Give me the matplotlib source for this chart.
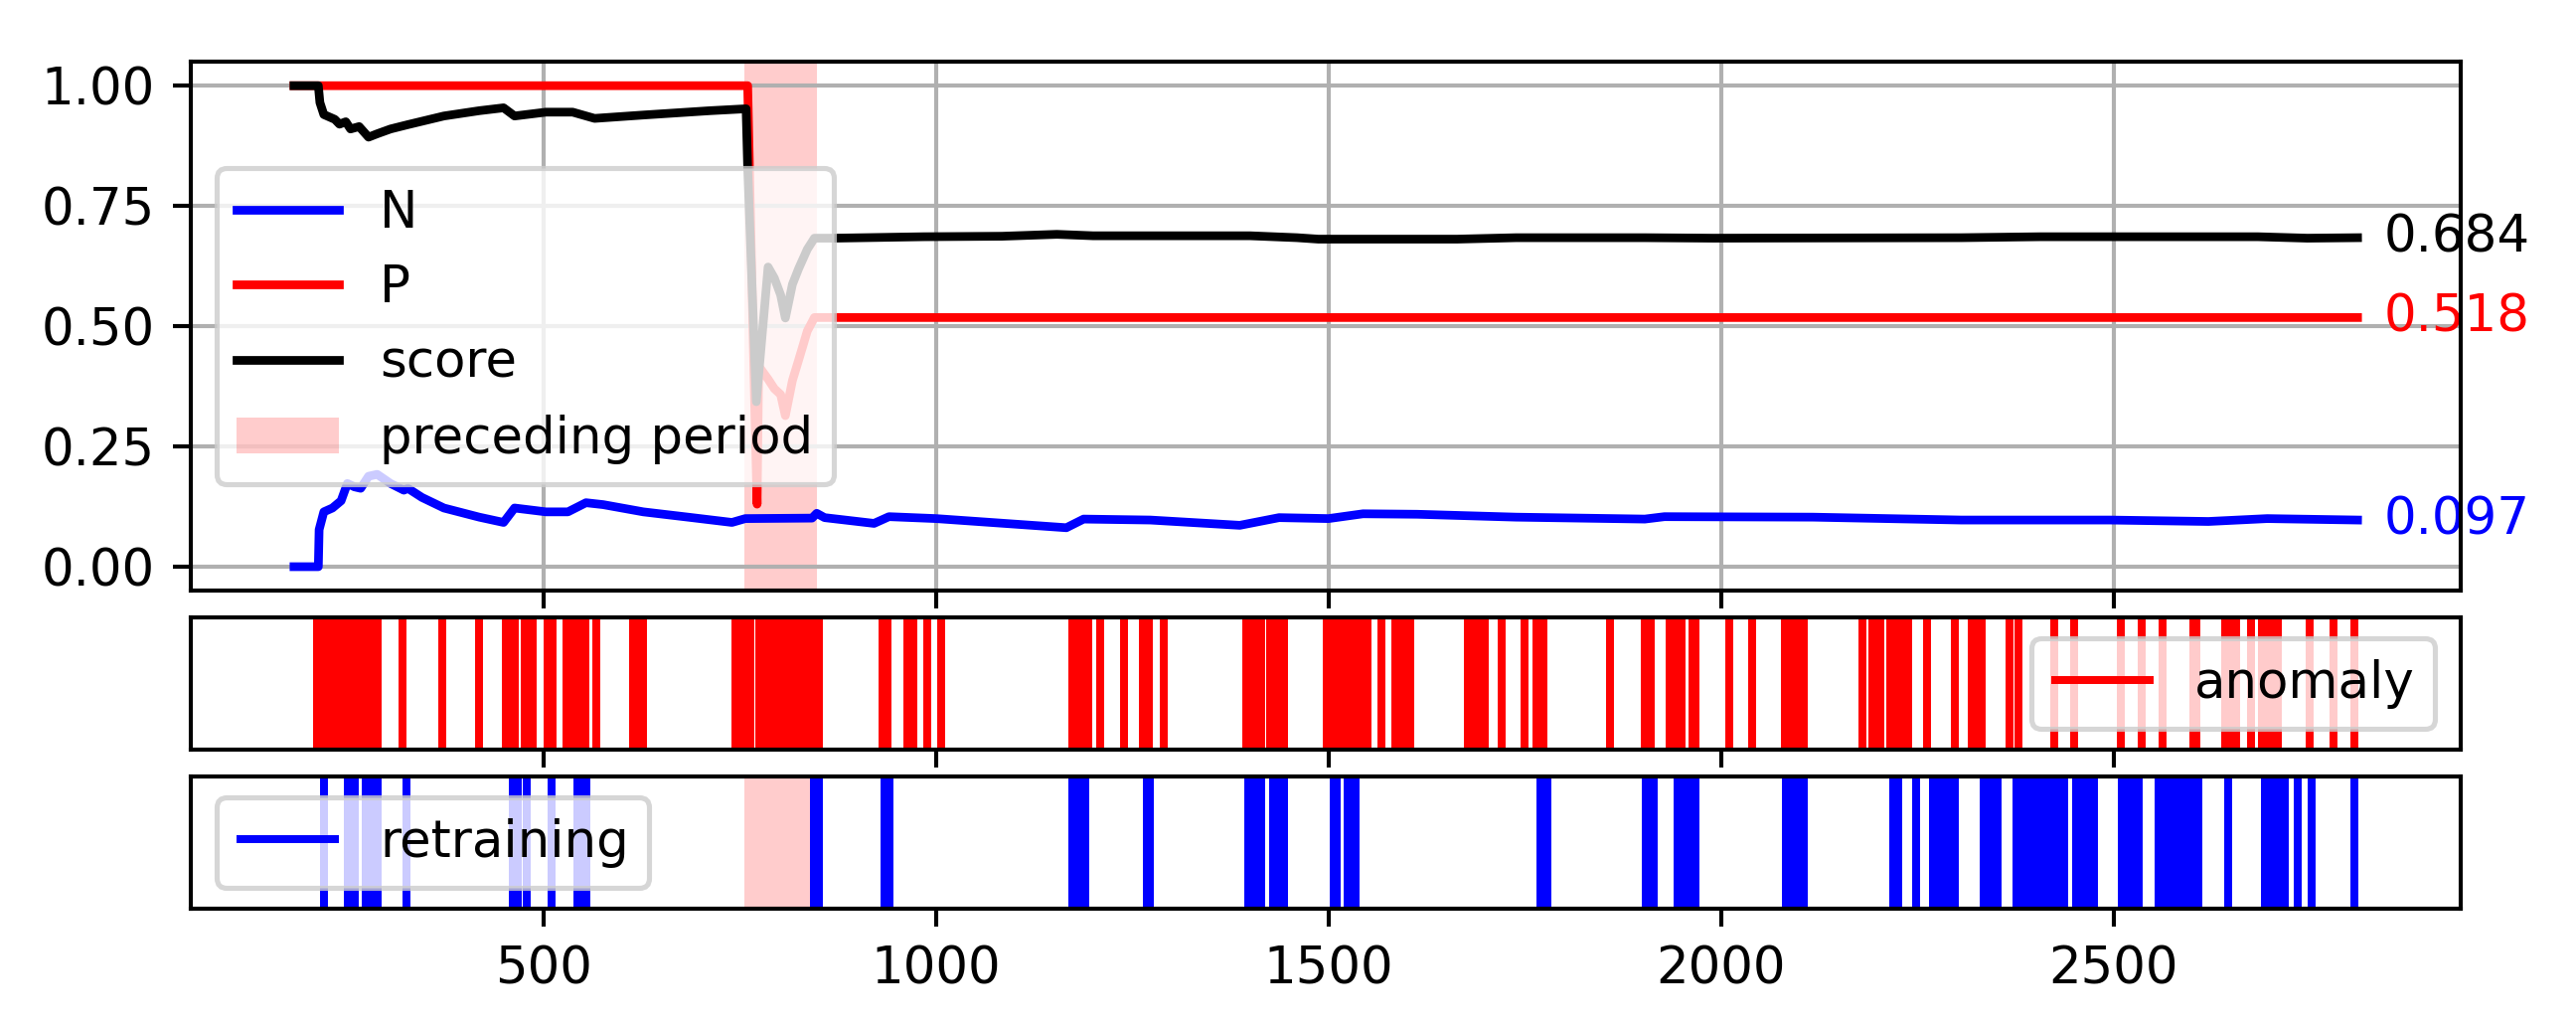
import numpy as np
import matplotlib
matplotlib.use("Agg")
import matplotlib.pyplot as plt

# ---------------- data ----------------
score_x = [182, 213, 215, 220, 234, 240, 248, 254, 265, 277, 288, 305, 327, 373, 418, 449,
           463, 503, 537, 565, 627, 712, 758, 760, 771, 786, 794, 802, 808, 817, 825, 836,
           845, 870, 984, 1084, 1154, 1200, 1400, 1460, 1487, 1664, 1739, 1903, 1991, 2306,
           2407, 2684, 2747, 2811]
score_y = [1.0, 1.0, 0.965, 0.94, 0.93, 0.92, 0.925, 0.91, 0.915, 0.893, 0.90, 0.91, 0.919,
           0.937, 0.948, 0.954, 0.937, 0.945, 0.945, 0.932, 0.939, 0.948, 0.952, 0.83, 0.343,
           0.623, 0.60, 0.565, 0.517, 0.587, 0.62, 0.66, 0.683, 0.683, 0.686, 0.687, 0.691,
           0.688, 0.688, 0.684, 0.681, 0.681, 0.684, 0.684, 0.683, 0.684, 0.686, 0.686, 0.683,
           0.684]

p_x = [182, 760, 768, 772, 774, 786, 794, 802, 808, 817, 825, 836, 845, 2811]
p_y = [1.0, 1.0, 0.40, 0.13, 0.417, 0.39, 0.37, 0.358, 0.314, 0.387, 0.43, 0.49, 0.518, 0.518]

n_x = [182, 213, 214, 220, 231, 242, 250, 259, 267, 277, 288, 305, 322, 327, 345, 373, 418,
       449, 463, 503, 531, 554, 576, 627, 684, 740, 757, 842, 848, 858, 921, 940, 1000, 1166,
       1188, 1273, 1387, 1437, 1500, 1544, 1613, 1739, 1903, 1928, 2117, 2306, 2495, 2621,
       2696, 2811]
n_y = [0.0, 0.0, 0.077, 0.114, 0.122, 0.137, 0.173, 0.166, 0.163, 0.188, 0.192, 0.173, 0.159,
       0.163, 0.144, 0.122, 0.103, 0.092, 0.122, 0.114, 0.114, 0.133, 0.129, 0.114, 0.103,
       0.092, 0.100, 0.101, 0.111, 0.102, 0.090, 0.104, 0.100, 0.081, 0.099, 0.097, 0.086,
       0.102, 0.100, 0.110, 0.109, 0.103, 0.099, 0.104, 0.103, 0.097, 0.097, 0.094, 0.100,
       0.097]

final_labels = {"score": 0.684, "P": 0.518, "N": 0.097}

preceding_start, preceding_end = 756, 848

# anomaly periods (start, end) of consecutive flagged time steps
anomaly_start = [211, 320, 371, 418, 452, 476, 505, 529, 567, 614, 745, 775, 932, 964, 989,
                 1006, 1173, 1209, 1240, 1264, 1290, 1395, 1425, 1498, 1567, 1585, 1678, 1721,
                 1750, 1765, 1858, 1903, 1934, 1964, 2011, 2040, 2081, 2180, 2193, 2216, 2262,
                 2298, 2320, 2368, 2379, 2424, 2450, 2510, 2536, 2562, 2602, 2643, 2675, 2689,
                 2750, 2780, 2807]
anomaly_end = [288, 320, 371, 418, 463, 486, 511, 553, 567, 627, 763, 851, 938, 971, 989,
               1006, 1194, 1209, 1240, 1271, 1290, 1414, 1443, 1550, 1567, 1604, 1699, 1721,
               1750, 1774, 1858, 1911, 1950, 1967, 2011, 2040, 2105, 2180, 2203, 2239, 2262,
               2298, 2332, 2368, 2379, 2424, 2450, 2510, 2536, 2562, 2606, 2656, 2675, 2710,
               2750, 2780, 2807]

# retraining periods (start, end)
retrain_start = [220, 251, 273, 325, 461, 479, 510, 543, 844, 934, 1173, 1268, 1398, 1430,
                 1507, 1524, 1770, 1904, 1945, 2083, 2219, 2249, 2270, 2335, 2376, 2452, 2511,
                 2557, 2646, 2693, 2735, 2753, 2807]
retrain_end = [220, 259, 288, 325, 467, 479, 510, 554, 851, 941, 1190, 1273, 1414, 1443,
               1511, 1534, 1779, 1914, 1967, 2106, 2226, 2249, 2298, 2353, 2437, 2475, 2532,
               2608, 2646, 2718, 2735, 2753, 2807]

ytick_vals = [0.0, 0.25, 0.5, 0.75, 1.0]
label_x = 2845


def steps(starts, ends):
    out = []
    for s, e in zip(starts, ends):
        out.extend(range(s, e + 1))
    return out


# ---------------- figure ----------------
DPI = 370
fig = plt.figure(figsize=(2592 / DPI, 1035 / DPI), dpi=DPI)
gs = fig.add_gridspec(3, 1, height_ratios=[4, 1, 1],
                      left=192 / 2592, right=2476 / 2592,
                      bottom=1 - 914.3 / 1035, top=1 - 62 / 1035,
                      hspace=27 / 266)
ax1 = fig.add_subplot(gs[0])
ax2 = fig.add_subplot(gs[1], sharex=ax1)
ax3 = fig.add_subplot(gs[2], sharex=ax1)

LW = 1.7
ax1.plot(n_x, n_y, color="blue", lw=LW, label="N")
ax1.plot(p_x, p_y, color="red", lw=LW, label="P")
ax1.plot(score_x, score_y, color="black", lw=LW, label="score")
ax1.axvspan(preceding_start, preceding_end, color="red", alpha=0.2, lw=0,
            label="preceding period")
ax1.grid(True)
ax1.set_yticks(ytick_vals)
ax1.legend(loc="center left")
for key, col in (("score", "black"), ("P", "red"), ("N", "blue")):
    v = final_labels[key]
    ax1.text(label_x, v, f"{v:.3f}", color=col, va="center", ha="left",
             zorder=2, clip_on=False)
plt.setp(ax1.get_xticklabels(), visible=False)

ax2.vlines(steps(anomaly_start, anomaly_end), 0, 1, colors="red", lw=1.55, label="anomaly")
ax2.set_ylim(0, 1)
ax2.set_yticks([])
ax2.legend(loc="center right")
plt.setp(ax2.get_xticklabels(), visible=False)

ax3.axvspan(preceding_start, preceding_end, color="red", alpha=0.2, lw=0)
ax3.vlines(steps(retrain_start, retrain_end), 0, 1, colors="blue", lw=1.55, label="retraining")
ax3.set_ylim(0, 1)
ax3.set_yticks([])
ax3.legend(loc="center left")

fig.savefig("out.png", dpi=DPI)
